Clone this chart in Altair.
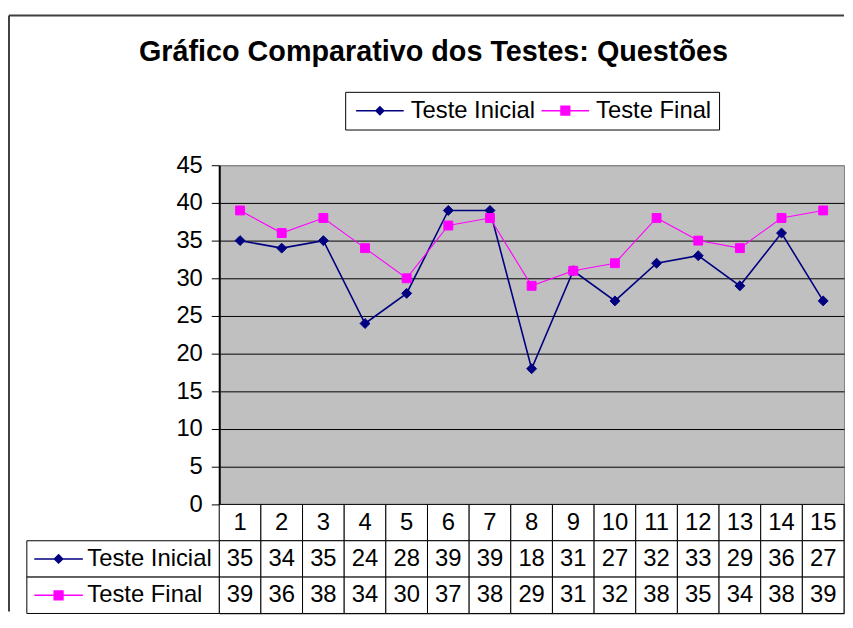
import altair as alt
import pandas as pd

# ---------------- data ----------------
questoes = list(range(1, 16))
teste_inicial = [35, 34, 35, 24, 28, 39, 39, 18, 31, 27, 32, 33, 29, 36, 27]
teste_final = [39, 36, 38, 34, 30, 37, 38, 29, 31, 32, 38, 35, 34, 38, 39]
series_names = ["Teste Inicial", "Teste Final"]
y_ticks = [0, 5, 10, 15, 20, 25, 30, 35, 40, 45]
title_text = "Gráfico Comparativo dos Testes: Questões"

# ---------------- styles ----------------
FONT = "Liberation Sans"
colors = ["#000080", "#FF00FF"]
marker_shapes = ["diamond", "square"]
marker_sizes = [100, 80]
line_widths = [1.6, 1.1]
# legend symbols: a line segment with the series marker (unit = 4px)
legend_paths = [
    "M-2,0H10M4,-1L5,0L4,1L3,0Z",
    "M-2,0H10M2.9,-1.1H5.1V1.1H2.9Z",
]
# data-table row symbols (unit = 24.5px, centred)
table_paths = [
    "M-1,0H1M0,-0.17L0.17,0L0,0.17L-0.17,0Z",
    "M-1,0H1M-0.18,-0.18H0.18V0.18H-0.18Z",
]
PLOT_W, PLOT_H = 630, 342
LABEL_W, TABLE_H = 194, 110
FS = 24

long = pd.DataFrame({
    "q": questoes * 2,
    "serie": [series_names[0]] * len(questoes) + [series_names[1]] * len(questoes),
    "valor": teste_inicial + teste_final,
})

row_domain = ["h"] + series_names
table_df = pd.DataFrame({
    "q": questoes * 3,
    "row": ["h"] * len(questoes) + [series_names[0]] * len(questoes) + [series_names[1]] * len(questoes),
    "txt": [str(q) for q in questoes] + [str(v) for v in teste_inicial] + [str(v) for v in teste_final],
})
label_df = pd.DataFrame({"row": series_names})
title_df = pd.DataFrame({"t": [title_text]})

color_scale = alt.Scale(domain=series_names, range=colors)
shape_scale = alt.Scale(domain=series_names, range=legend_paths)

legend = alt.Legend(
    title=None, orient="none", legendX=127, legendY=-74, direction="horizontal",
    symbolSize=64, symbolStrokeWidth=1.5, labelFontSize=FS, labelFont=FONT,
    labelColor="black", strokeColor="black", fillColor="white", padding=7,
    columnPadding=2, labelOffset=35,
)

x_pt = alt.X("q:O", scale=alt.Scale(type="point", domain=questoes, padding=0.5), axis=None)
y_val = alt.Y(
    "valor:Q",
    scale=alt.Scale(domain=[0, 45], nice=False, zero=True, range=[PLOT_H, 0]),
    axis=alt.Axis(
        values=y_ticks, title=None, grid=True,
        gridColor=alt.condition("datum.value == 45", alt.value("#808080"), alt.value("black")),
        gridWidth=1, domainColor="black", domainWidth=2, tickColor="black", tickSize=8,
        labelFontSize=FS, labelFont=FONT, labelColor="black", labelPadding=9,
    ),
)

base = alt.Chart(long)

# legend carrier (no marks drawn, only the scales + legend)
legend_layer = base.transform_filter("false").mark_point(filled=True, opacity=1).encode(
    x=x_pt, y=y_val,
    shape=alt.Shape("serie:N", scale=shape_scale, legend=legend),
    fill=alt.Fill("serie:N", scale=color_scale, legend=legend),
    stroke=alt.Stroke("serie:N", scale=color_scale, legend=legend),
)

series_layers = []
for name, col, shp, sz, lw in zip(series_names, colors, marker_shapes, marker_sizes, line_widths):
    sub = base.transform_filter(alt.datum.serie == name)
    series_layers.append(sub.mark_line(color=col, strokeWidth=lw).encode(x=x_pt, y=y_val))
    series_layers.append(
        sub.mark_point(shape=shp, filled=True, opacity=1, size=sz, color=col, stroke=col, strokeWidth=1)
        .encode(x=x_pt, y=y_val)
    )

plot = alt.layer(legend_layer, *series_layers)

# ---------------- data table (below the plot area) ----------------
x_band = alt.X("q:O", scale=alt.Scale(type="band", domain=questoes, paddingInner=0, paddingOuter=0), axis=None)
y_band = alt.Y("row:N", scale=alt.Scale(domain=row_domain, paddingInner=0, paddingOuter=0,
                                         range=[PLOT_H, PLOT_H + TABLE_H]), axis=None)

cells = alt.Chart(table_df).mark_rect(fill="white", stroke="black", strokeWidth=1).encode(x=x_band, y=y_band)
cell_txt = alt.Chart(table_df).mark_text(fontSize=FS, font=FONT, color="black").encode(
    x=x_band, y=y_band, text="txt:N"
)

lab_rect = alt.Chart(label_df).mark_rect(fill="white", stroke="black", strokeWidth=1).encode(
    y=y_band, x=alt.value(-LABEL_W), x2=alt.value(0)
)
lab_syms = []
for name, col, path in zip(series_names, colors, table_paths):
    lab_syms.append(
        alt.Chart(label_df).transform_filter(alt.datum.row == name)
        .mark_point(filled=True, opacity=1, size=2401, strokeWidth=1.5, shape=path, color=col, stroke=col)
        .encode(y=y_band, x=alt.value(-162))
    )
lab_txt = alt.Chart(label_df).mark_text(align="left", fontSize=FS, font=FONT, color="black").encode(
    y=y_band, x=alt.value(-133), text="row:N"
)
table = alt.layer(cells, cell_txt, lab_rect, *lab_syms, lab_txt)

# ---------------- chart-area frame and title ----------------
frame_top = alt.Chart(title_df).mark_rule(color="#404040", strokeWidth=2).encode(
    x=alt.value(-212), x2=alt.value(PLOT_W), y=alt.value(-151)
)
frame_left = alt.Chart(title_df).mark_rule(color="#404040", strokeWidth=2).encode(
    x=alt.value(-212), y=alt.value(-151), y2=alt.value(450)
)
title_mark = alt.Chart(title_df).mark_text(
    fontSize=29, font=FONT, fontWeight="bold", color="black", align="center", baseline="alphabetic"
).encode(x=alt.value(216), y=alt.value(-105), text="t:N")
decor = alt.layer(frame_top, frame_left, title_mark)

chart = alt.layer(plot, table, decor).resolve_scale(x="independent", y="independent").properties(
    width=PLOT_W, height=PLOT_H + TABLE_H,
    padding={"left": 0, "top": 4, "right": 0, "bottom": 0},
    background="white",
).configure_view(fill="#C0C0C0", stroke="#808080", strokeWidth=1)

chart.save("out.html", embed_options={"renderer": "svg", "actions": False})
